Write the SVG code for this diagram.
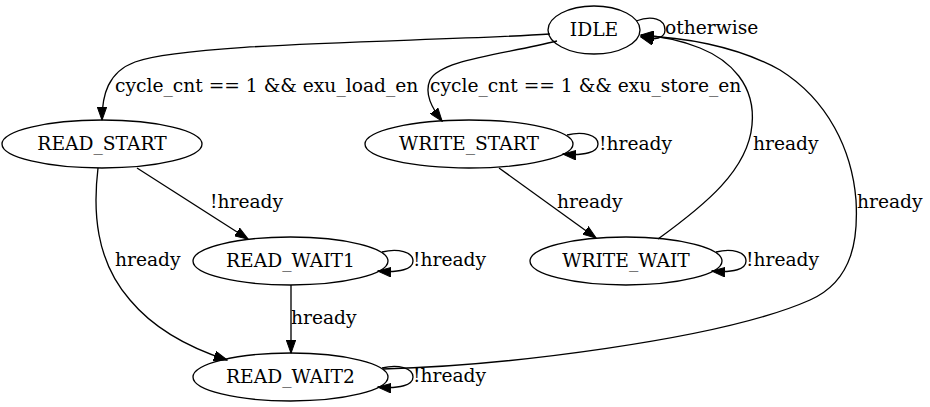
<svg xmlns="http://www.w3.org/2000/svg" width="930" height="407" viewBox="0 0 930 407">
<style>
.n ellipse{fill:none;stroke:#000;stroke-width:1.33}
.n text{text-anchor:middle}
.e path{fill:none;stroke:#000;stroke-width:1.33;marker-end:url(#arr)}
</style>
<defs>
<marker id="arr" markerUnits="userSpaceOnUse" markerWidth="14" markerHeight="10" refX="13" refY="4.7" orient="auto" viewBox="0 0 14 9.4">
<path d="M0,0 L13.3,4.7 L0,9.4 z" fill="#000" stroke="#000" stroke-width="1"/>
</marker>
</defs>
<rect width="930" height="407" fill="#fff"/>
<g id="edges" class="e">
<path d="M636,21 C652,15 665,19 665,30 C665,38 655,41 641,37"/>
<path d="M550,34 C430,42 190,42 135,62 C108,72 102,95 102,120"/>
<path d="M557,41 C500,55 440,60 430,80 C424,94 432,108 442,121"/>
<path d="M567,135 C583,131 598,135 598,144 C598,152 585,156 563,154"/>
<path d="M658,239 C705,205 748,170 752,125 C756,85 730,60 700,48 C680,40 660,36 641,35"/>
<path d="M383,369 C500,366 720,340 810,300 C855,280 858,235 856,200 C852,150 828,100 780,70 C735,45 680,37 641,36"/>
<path d="M137,168 L248,239"/>
<path d="M98,168 C93,210 95,260 130,300 C155,330 190,348 227,360"/>
<path d="M382,252 C398,248 413,252 413,261 C413,269 400,273 378,271"/>
<path d="M291,285 L291,353"/>
<path d="M382,368 C398,364 413,368 413,377 C413,385 400,389 378,387"/>
<path d="M499,168 L596,238"/>
<path d="M716,252 C732,248 746,252 746,261 C746,269 734,273 712,271"/>
</g>
<g id="labels" font-family="DejaVu Serif, serif" font-size="18.67">
<text x="665" y="34">otherwise</text>
<text x="115" y="92">cycle_cnt == 1 &amp;&amp; exu_load_en</text>
<text x="430" y="92">cycle_cnt == 1 &amp;&amp; exu_store_en</text>
<text x="599" y="150">!hready</text>
<text x="753" y="150">hready</text>
<text x="210" y="208">!hready</text>
<text x="557" y="208">hready</text>
<text x="857" y="208">hready</text>
<text x="115" y="266">hready</text>
<text x="413" y="266">!hready</text>
<text x="746" y="266">!hready</text>
<text x="291" y="324">hready</text>
<text x="413" y="382">!hready</text>
</g>
<g id="IDLE" class="n" font-family="DejaVu Serif, serif" font-size="18.67"><ellipse cx="594" cy="30" rx="46" ry="24"/><text x="594" y="36">IDLE</text></g>
<g id="READ_START" class="n" font-family="DejaVu Serif, serif" font-size="18.67"><ellipse cx="102" cy="144" rx="100" ry="24"/><text x="102" y="150">READ_START</text></g>
<g id="WRITE_START" class="n" font-family="DejaVu Serif, serif" font-size="18.67"><ellipse cx="469" cy="144" rx="104" ry="24"/><text x="469" y="150">WRITE_START</text></g>
<g id="READ_WAIT1" class="n" font-family="DejaVu Serif, serif" font-size="18.67"><ellipse cx="290.5" cy="261" rx="97.5" ry="24"/><text x="290.5" y="267">READ_WAIT1</text></g>
<g id="WRITE_WAIT" class="n" font-family="DejaVu Serif, serif" font-size="18.67"><ellipse cx="626" cy="261" rx="96" ry="24"/><text x="626" y="267">WRITE_WAIT</text></g>
<g id="READ_WAIT2" class="n" font-family="DejaVu Serif, serif" font-size="18.67"><ellipse cx="290.5" cy="377" rx="97.5" ry="24"/><text x="290.5" y="383">READ_WAIT2</text></g>
</svg>
